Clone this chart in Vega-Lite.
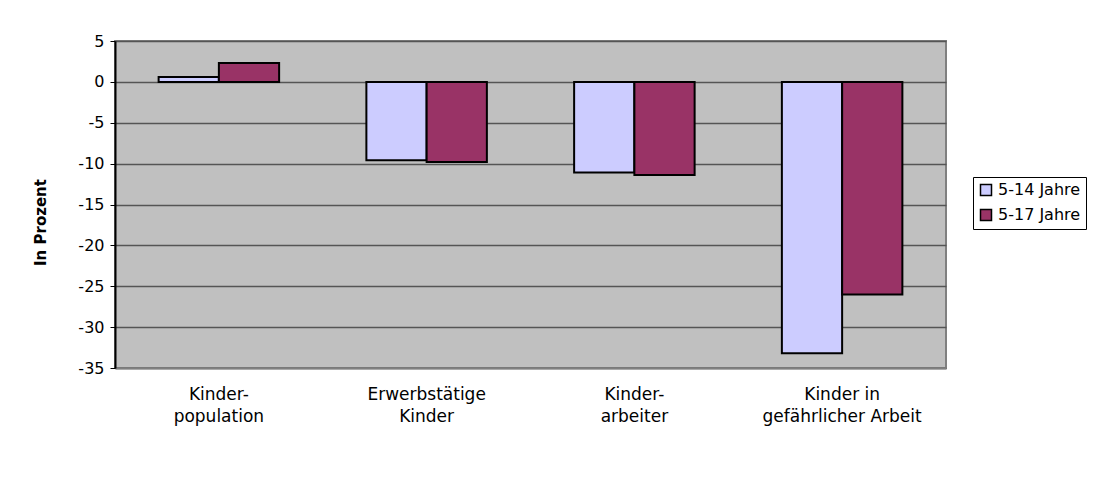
{
  "$schema": "https://vega.github.io/schema/vega-lite/v6.json",
  "width": 831,
  "height": 327,
  "autosize": {"type": "none"},
  "padding": {"left": 115, "top": 41, "right": 156, "bottom": 118},
  "background": "white",
  "data": {
    "values": [
      {"kategorie": "Kinder-\npopulation", "gruppe": "5-14 Jahre", "wert": 0.6},
      {"kategorie": "Kinder-\npopulation", "gruppe": "5-17 Jahre", "wert": 2.3},
      {"kategorie": "Erwerbstätige\nKinder", "gruppe": "5-14 Jahre", "wert": -9.6},
      {"kategorie": "Erwerbstätige\nKinder", "gruppe": "5-17 Jahre", "wert": -9.8},
      {"kategorie": "Kinder-\narbeiter", "gruppe": "5-14 Jahre", "wert": -11.1},
      {"kategorie": "Kinder-\narbeiter", "gruppe": "5-17 Jahre", "wert": -11.4},
      {"kategorie": "Kinder in\ngefährlicher Arbeit", "gruppe": "5-14 Jahre", "wert": -33.2},
      {"kategorie": "Kinder in\ngefährlicher Arbeit", "gruppe": "5-17 Jahre", "wert": -26.0}
    ]
  },
  "mark": {"type": "bar", "stroke": "black", "strokeWidth": 2, "opacity": 1},
  "encoding": {
    "x": {
      "field": "kategorie",
      "type": "nominal",
      "sort": null,
      "scale": {"paddingInner": 0.42, "paddingOuter": 0.21},
      "axis": {
        "title": null,
        "labelAngle": 0,
        "labelExpr": "split(datum.label, '\\n')",
        "labelFontSize": 17,
        "labelFont": "DejaVu Sans",
        "labelColor": "black",
        "labelLineHeight": 22,
        "labelPadding": 18,
        "ticks": false,
        "domainColor": "#808080",
        "domainWidth": 2
      }
    },
    "xOffset": {
      "field": "gruppe",
      "type": "nominal",
      "scale": {"paddingInner": 0, "paddingOuter": 0}
    },
    "y": {
      "field": "wert",
      "type": "quantitative",
      "scale": {"domain": [-35, 5], "nice": false, "zero": false},
      "axis": {
        "title": "In Prozent",
        "titleFontSize": 15,
        "titleFont": "DejaVu Sans",
        "titleFontWeight": "bold",
        "titleColor": "black",
        "titleX": -75,
        "titleY": 181,
        "titleBaseline": "middle",
        "titleAngle": 270,
        "titleAlign": "center",
        "values": [5, 0, -5, -10, -15, -20, -25, -30, -35],
        "labelExpr": "toString(datum.value)",
        "labelFontSize": 16,
        "labelFont": "DejaVu Sans",
        "labelColor": "black",
        "labelPadding": 6,
        "tickColor": "black",
        "tickSize": 5,
        "tickWidth": 1,
        "domainColor": "black",
        "domainWidth": 2,
        "grid": true,
        "gridColor": "#555555",
        "gridWidth": 1.5
      }
    },
    "fill": {
      "field": "gruppe",
      "type": "nominal",
      "scale": {"domain": ["5-14 Jahre", "5-17 Jahre"], "range": ["#CCCCFF", "#993366"]},
      "legend": {
        "title": null,
        "orient": "none",
        "legendX": 858,
        "legendY": 136,
        "strokeColor": "black",
        "padding": 5,
        "symbolType": "square",
        "symbolSize": 121,
        "symbolStrokeColor": "black",
        "symbolStrokeWidth": 1.5,
        "labelFontSize": 16,
        "labelFont": "DejaVu Sans",
        "labelColor": "black",
        "rowPadding": 7,
        "labelOffset": 4
      }
    }
  },
  "config": {
    "view": {"fill": "#C0C0C0", "stroke": "#808080", "strokeWidth": 2},
    "axis": {"labelFont": "DejaVu Sans"}
  }
}
